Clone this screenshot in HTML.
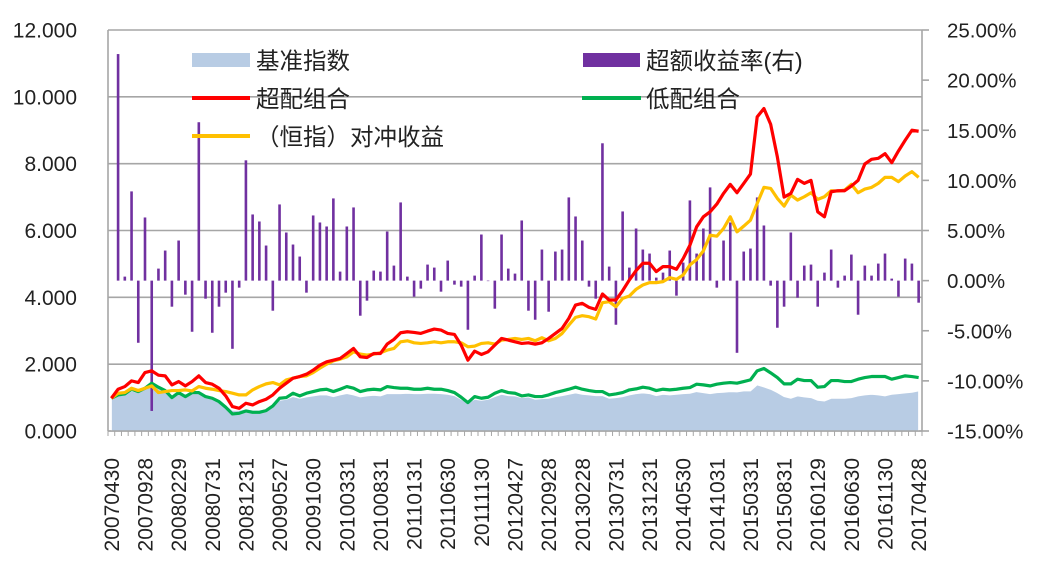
<!DOCTYPE html>
<html><head><meta charset="utf-8">
<style>
html,body{margin:0;padding:0;background:#fff;}
svg{display:block;font-family:"Liberation Sans","Noto Sans CJK SC",sans-serif;}
</style></head>
<body>
<svg id="chart" width="1038" height="573" viewBox="0 0 1038 573" xmlns="http://www.w3.org/2000/svg">
<g id="grid"></g>
<g id="area"></g>
<g id="bars"></g>
<g id="lines"></g>
<g id="axes"></g>
<g id="legend">
  <rect x="192" y="53" width="58" height="14" fill="#b8cce4"/>
  <text x="256" y="69" font-size="23.5" fill="#222">基准指数</text>
  <rect x="583" y="53" width="57" height="14" fill="#7030a0"/>
  <text x="646" y="69" font-size="23.5" fill="#222">超额收益率(右)</text>
  <line x1="192" y1="98" x2="250" y2="98" stroke="#ff0000" stroke-width="4"/>
  <text x="256" y="107" font-size="23.5" fill="#222">超配组合</text>
  <line x1="582" y1="98" x2="641" y2="98" stroke="#00b050" stroke-width="4"/>
  <text x="646" y="107" font-size="23.5" fill="#222">低配组合</text>
  <line x1="192" y1="136" x2="250" y2="136" stroke="#ffc000" stroke-width="4"/>
  <text x="256" y="145" font-size="23.5" fill="#222">（恒指）对冲收益</text>
</g>
</svg>
<script>
const dateLabels=["20070430","20070928","20080229","20080731","20081231","20090527","20091030","20100331","20100831","20110131","20110630","20111130","20120427","20120928","20130228","20130731","20131231","20140530","20141031","20150331","20150831","20160129","20160630","20161130","20170428"];
const leftTicks=["0.000","2.000","4.000","6.000","8.000","10.000","12.000"];
const rightTicks=["-15.00%","-10.00%","-5.00%","0.00%","5.00%","10.00%","15.00%","20.00%","25.00%"];
const benchmark=[0.98,1.05,1.08,1.2,1.15,1.25,1.38,1.3,1.22,1.05,1.15,1.05,1.15,1.15,1.05,1.0,0.92,
0.78,0.62,0.62,0.66,0.63,0.63,0.66,0.78,
0.92,0.95,1.03,0.98,1.02,1.05,1.08,1.08,1.03,1.08,1.12,1.08,1.02,1.05,1.07,1.05,1.12,1.12,1.12,1.13,1.12,1.12,1.13,1.13,1.12,1.1,1.06,0.95,0.85,0.95,0.92,0.95,1.03,1.1,1.06,1.05,
1.0,1.02,0.95,0.97,0.98,1.03,1.06,1.1,1.14,1.1,1.08,1.06,1.06,0.98,1.0,1.03,1.08,1.12,1.14,1.12,1.06,1.1,1.08,1.1,1.12,1.13,1.18,1.15,1.12,1.15,1.16,1.18,1.17,1.2,1.2,
1.38,1.32,1.25,1.15,1.03,0.98,1.05,1.02,1.0,0.92,0.9,0.98,0.98,0.98,1.0,1.05,1.08,1.1,1.08,1.05,1.1,1.12,1.14,1.16,1.2];
const overweight=[0.98,1.25,1.33,1.5,1.45,1.75,1.8,1.67,1.65,1.38,1.48,1.35,1.48,1.65,1.45,1.4,1.28,1.05,0.73,0.68,0.83,0.78,0.88,0.95,1.08,1.28,1.43,1.58,1.63,1.7,1.82,1.97,2.07,2.12,2.17,2.32,2.47,2.22,2.2,2.32,2.32,2.6,2.74,2.94,2.97,2.95,2.92,2.99,3.05,3.02,2.92,2.89,2.57,2.12,2.39,2.29,2.37,2.57,2.77,2.72,2.67,
2.62,2.64,2.6,2.64,2.77,2.92,3.07,3.37,3.77,3.82,3.7,3.64,4.1,3.92,3.92,4.2,4.52,4.8,5.02,5.02,4.77,4.92,4.92,4.84,5.16,5.56,6.11,6.41,6.56,6.79,7.11,7.38,7.13,7.41,7.69,9.4,9.65,9.18,8.2,7.0,7.11,7.53,7.41,7.5,6.56,6.41,7.16,7.19,7.19,7.33,7.5,7.99,8.13,8.16,8.3,8.03,8.38,8.7,9.0,8.97];
const hedge=[0.98,1.13,1.15,1.28,1.21,1.28,1.35,1.15,1.18,1.21,1.21,1.23,1.2,1.33,1.28,1.25,1.21,1.18,1.13,1.08,1.08,1.23,1.33,1.41,1.45,1.38,1.53,1.58,1.63,1.65,1.75,1.88,2.0,2.1,2.15,2.22,2.37,2.3,2.27,2.3,2.34,2.42,2.47,2.67,2.7,2.64,2.62,2.64,2.67,2.64,2.67,2.67,2.64,2.52,2.54,2.62,2.64,2.6,2.72,2.74,2.77,
2.74,2.77,2.7,2.79,2.7,2.77,2.92,3.17,3.4,3.45,3.42,3.35,3.84,3.87,3.72,3.97,4.04,4.24,4.37,4.44,4.44,4.47,4.59,4.54,4.67,4.97,5.13,5.39,5.86,5.83,6.06,6.41,5.96,6.13,6.31,6.81,7.29,7.26,6.96,6.73,7.06,6.91,7.01,7.13,6.93,7.01,7.19,7.18,7.21,7.38,7.13,7.24,7.29,7.41,7.59,7.59,7.46,7.63,7.76,7.59];
const underweight=[0.98,1.08,1.11,1.25,1.18,1.28,1.43,1.31,1.21,1.0,1.15,1.03,1.15,1.15,1.03,0.98,0.88,0.71,0.51,0.53,0.6,0.56,0.56,0.61,0.75,0.98,1.0,1.13,1.05,1.13,1.18,1.23,1.25,1.18,1.25,1.33,1.28,1.18,1.23,1.25,1.23,1.33,1.3,1.28,1.28,1.25,1.25,1.28,1.25,1.25,1.21,1.15,1.01,0.85,1.03,0.98,1.01,1.13,1.21,1.15,1.13,
1.05,1.08,1.03,1.03,1.08,1.15,1.2,1.25,1.31,1.25,1.21,1.18,1.18,1.08,1.11,1.15,1.23,1.26,1.31,1.28,1.21,1.25,1.23,1.25,1.28,1.3,1.4,1.38,1.35,1.4,1.43,1.45,1.43,1.48,1.53,1.8,1.87,1.74,1.6,1.41,1.41,1.55,1.51,1.51,1.31,1.33,1.51,1.51,1.48,1.48,1.55,1.6,1.63,1.63,1.63,1.55,1.6,1.65,1.63,1.6];
// excess return (%) for months 2..121
const excess=[22.6,0.4,8.9,-6.2,6.3,-13,1.2,3.0,-2.6,4.0,-1.4,-5.1,15.8,-1.8,-5.2,-2.6,-1.2,-6.8,-0.7,12.0,6.6,5.9,3.5,-3.0,7.6,4.8,3.6,2.4,-1.2,6.5,5.8,5.4,8.2,0.9,5.4,7.3,-3.5,-2.0,1.0,0.9,4.9,1.5,7.8,0.4,-1.6,-0.8,1.6,1.3,-1.1,2.0,-0.4,-0.6,-4.9,0.5,4.6,-0.05,-2.8,4.6,1.2,0.7,6.0,
-3.0,-3.9,3.1,-3.1,2.9,3.1,8.3,6.4,4.0,-0.6,-1.8,13.7,1.4,-4.4,6.9,1.3,5.2,3.1,2.7,0.3,0.8,3.0,-1.5,1.8,8.0,2.7,5.2,9.3,-0.7,4.0,5.8,-7.2,2.9,3.2,8.3,5.5,-0.5,-4.7,-2.6,4.8,-1.7,1.5,1.6,-2.6,0.8,3.1,-0.7,0.5,2.6,-3.4,1.5,0.5,1.7,2.7,0.2,-1.6,2.2,1.7,-2.2];

const NS='http://www.w3.org/2000/svg';
const PL=108,PR=922,PT=30,PB=431;
const N=benchmark.length;
const step=(PR-PL)/N;
function xAt(i){return PL+step*(i+0.5);}
function yL(v){return PB-(PB-PT)*v/12;}
function yR(p){return PB-(PB-PT)*(p+15)/40;}
function mk(tag,attrs,parent){const e=document.createElementNS(NS,tag);for(const k in attrs)e.setAttribute(k,attrs[k]);parent.appendChild(e);return e;}

const grid=document.getElementById('grid');
leftTicks.forEach((t,i)=>{
  const y=yL(i*2);
  const gl=mk('line',{x1:PL,x2:PR,y1:y,y2:y,stroke:'#a6a6a6','stroke-width':1.6},grid);
  
  
});

const areaG=document.getElementById('area');
let d='M'+xAt(0)+','+PB;
benchmark.forEach((v,i)=>{d+=' L'+xAt(i).toFixed(2)+','+yL(v).toFixed(2);});
d+=' L'+xAt(N-1)+','+PB+' Z';
const ap=mk('path',{d:d,fill:'#b8cce4',stroke:'#fff','stroke-width':1},areaG);



const barsG=document.getElementById('bars');
excess.forEach((p,i)=>{
  const x=xAt(i+1);const y0=yR(0),y1=yR(p);
  const r=mk('rect',{x:(x-1.3).toFixed(2),y:Math.min(y0,y1).toFixed(2),width:2.6,height:Math.abs(y1-y0).toFixed(2),fill:'#7030a0'},barsG);
  
  
});

const linesG=document.getElementById('lines');
function line(arr,color,name){
  const pts=arr.map((v,i)=>xAt(i).toFixed(2)+','+yL(v).toFixed(2)).join(' ');
  const pl=mk('polyline',{points:pts,fill:'none',stroke:color,'stroke-width':3.2,'stroke-linejoin':'round'},linesG);
  
  
}
line(underweight,'#00b050','underweight-line');
line(hedge,'#ffc000','hedge-line');
line(overweight,'#ff0000','overweight-line');

const ax=document.getElementById('axes');
const la=mk('line',{x1:PL,x2:PL,y1:PT,y2:PB,stroke:'#a6a6a6','stroke-width':1.6},ax);


const ra=mk('line',{x1:PR,x2:PR,y1:PT,y2:PB,stroke:'#a6a6a6','stroke-width':1.6},ax);


const ba=mk('line',{x1:PL,x2:PR,y1:PB,y2:PB,stroke:'#a6a6a6','stroke-width':1.6},ax);


for(let i=0;i<=N;i++){
  const x=PL+step*i;
  const tk=mk('line',{x1:x,x2:x,y1:PB,y2:PB+5,stroke:'#a6a6a6','stroke-width':1},ax);
  
  
}
leftTicks.forEach((t,i)=>{
  const tx=mk('text',{x:77,y:yL(i*2)+7.5,'text-anchor':'end','font-size':21,fill:'#222'},ax);
  tx.textContent=t;
  
  
});
rightTicks.forEach((t,i)=>{
  const y=yR(-15+i*5);
  const tk=mk('line',{x1:PR,x2:PR+7,y1:y,y2:y,stroke:'#a6a6a6','stroke-width':1.6},ax);
  
  
  const tx=mk('text',{x:947,y:y+7.5,'font-size':20.5,fill:'#222'},ax);
  tx.textContent=t;
  
  
});
dateLabels.forEach((t,i)=>{
  const x=xAt(i*5)+7.5;
  const tx=mk('text',{x:x,y:458,'text-anchor':'end','font-size':21,fill:'#222',transform:'rotate(-90 '+x+' 458)'},ax);
  tx.textContent=t;
  
  
});
</script>
</body></html>
